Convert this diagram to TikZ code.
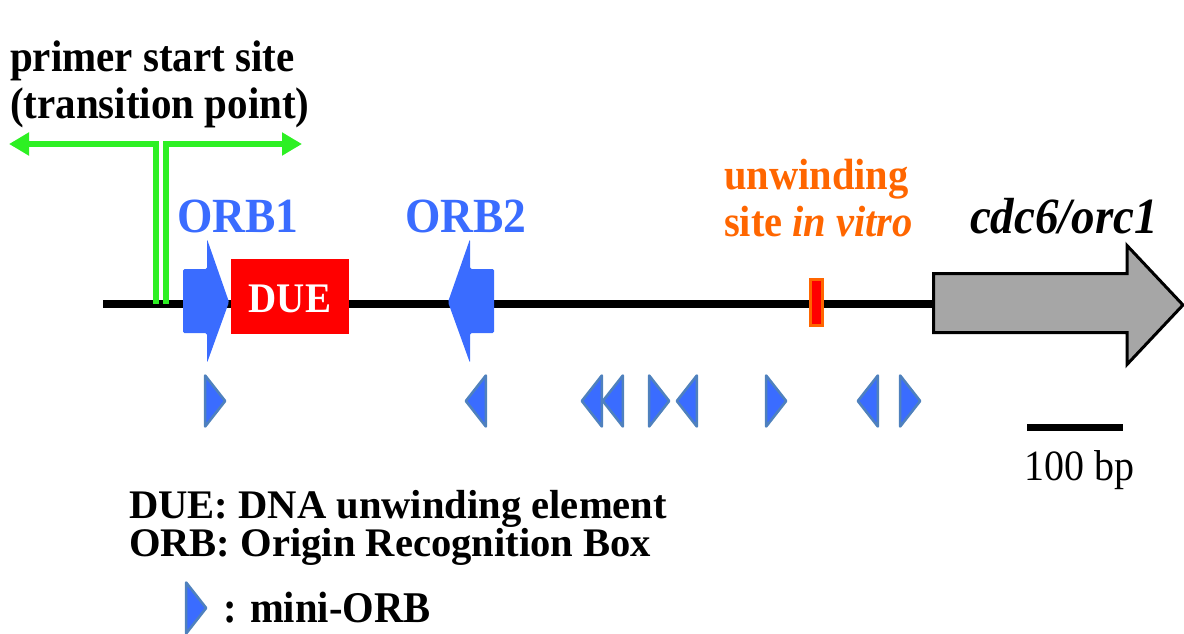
\documentclass[tikz,border=0pt]{standalone}
\usepackage{fontspec}
\usepackage{graphicx}
\setmainfont{Liberation Serif}
\usetikzlibrary{arrows.meta}
\definecolor{orbblue}{RGB}{58,108,255}
\definecolor{miniedge}{RGB}{79,129,189}
\definecolor{primgreen}{RGB}{45,240,35}
\definecolor{unwindorange}{RGB}{255,102,0}
\definecolor{genegray}{RGB}{166,166,166}
\definecolor{duered}{RGB}{255,0,0}
\newcommand\fsz[1]{\fontsize{#1}{#1}\selectfont}
\newcommand\vst[1]{\scalebox{1}[1.08]{#1}}
\tikzset{
  orbshape/.style={fill=orbblue, rounded corners=1.5pt},
  miniorb/.style={fill=orbblue, draw=miniedge, line width=2.5pt, line join=round},
  greenarrow/.style={draw=primgreen, line width=6pt, line join=miter, -{Triangle[length=20pt,width=22pt]}},
  lbl/.style={inner sep=0pt, outer sep=0pt, anchor=base west},
  minir/.pic={\path[miniorb] (0,-25.5) -- (20,0) -- (0,25.5) -- cycle;},
  minil/.pic={\path[miniorb] (0,-25.5) -- (-20,0) -- (0,25.5) -- cycle;},
}
\begin{document}
\begin{tikzpicture}[x=1pt,y=-1pt]
\useasboundingbox (0,0) rectangle (1184,634);

% labels top-left
\node[lbl, font=\fsz{41}\bfseries] (primer1) at (10,72) {\vst{primer start site}};
\node[lbl, font=\fsz{41}\bfseries] (primer2) at (10,118) {\vst{(transition point)}};

% main DNA line
\coordinate (lineL) at (103,303.5);
\coordinate (lineR) at (934,303.5);
\draw[line width=8pt] (lineL) -- (lineR);

% green primer start arrows
\coordinate (gL) at (155.5,303.5);
\coordinate (gR) at (166,303.5);
\coordinate (gLtip) at (9,144);
\coordinate (gRtip) at (302,144);
\draw[greenarrow] (gL) |- (gLtip);
\draw[greenarrow] (gR) |- (gRtip);

% ORB1
\path[orbshape] (183,269) -- (207,269) -- (207,239) -- (229,302) -- (207,363) -- (207,333) -- (183,333) -- cycle;
\node[lbl, font=\fsz{45.5}\bfseries, text=orbblue] (orb1) at (177,232) {\vst{ORB1}};

% DUE box
\node[fill=duered, minimum width=118pt, minimum height=75pt, inner sep=0pt,
      text=white, font=\fsz{39}\bfseries, text height=31pt, text depth=0pt] (due) at (290,296.5) {\vst{DUE}};

% ORB2
\path[orbshape] (494,269) -- (470,269) -- (470,239) -- (448,302) -- (470,363) -- (470,333) -- (494,333) -- cycle;
\node[lbl, font=\fsz{45.5}\bfseries, text=orbblue] (orb2) at (405,232) {\vst{ORB2}};

% unwinding site
\node[lbl, font=\fsz{40.5}\bfseries, text=unwindorange] (unw1) at (724,189) {\vst{unwinding}};
\node[lbl, font=\fsz{40.5}\bfseries, text=unwindorange] (unw2) at (724,236) {\vst{site \textit{in vitro}}};
\node[fill=duered, draw=unwindorange, line width=3pt, minimum width=12pt, minimum height=46pt, inner sep=0pt] (site) at (816.5,302.5) {};

% gene arrow
\path[fill=genegray, draw=black, line width=3pt, line join=miter]
  (933.5,273.5) -- (1127,273.5) -- (1127,245.5) -- (1183,305) -- (1127,364.5) -- (1127,332.5) -- (933.5,332.5) -- cycle;
\node[lbl, font=\fsz{47}\bfseries\itshape] (gene) at (970,233) {\vst{cdc6/orc1}};

% mini-ORBs
\pic at (205.2,401) {minir};
\pic at (485.8,401) {minil};
\pic at (601.8,401) {minil};
\pic at (622.8,401) {minil};
\pic at (649.2,401) {minir};
\pic at (696.8,401) {minil};
\pic at (766.2,401) {minir};
\pic at (877.8,401) {minil};
\pic at (900.2,401) {minir};

% scale bar
\coordinate (sbL) at (1027,427.5);
\coordinate (sbR) at (1123,427.5);
\draw[line width=7pt] (sbL) -- (sbR);
\node[lbl, font=\fsz{40}] (sbtext) at (1024,480) {\vst{100 bp}};

% legend
\node[lbl, font=\fsz{40.6}\bfseries] (leg1) at (129,518) {DUE: DNA unwinding element};
\node[lbl, font=\fsz{40.6}\bfseries] (leg2) at (129,556) {ORB: Origin Recognition Box};
\pic at (186.2,608) {minir};
\node[lbl, font=\fsz{40.6}\bfseries] (leg3) at (223,622) {\vst{: mini-ORB}};
\end{tikzpicture}
\end{document}
